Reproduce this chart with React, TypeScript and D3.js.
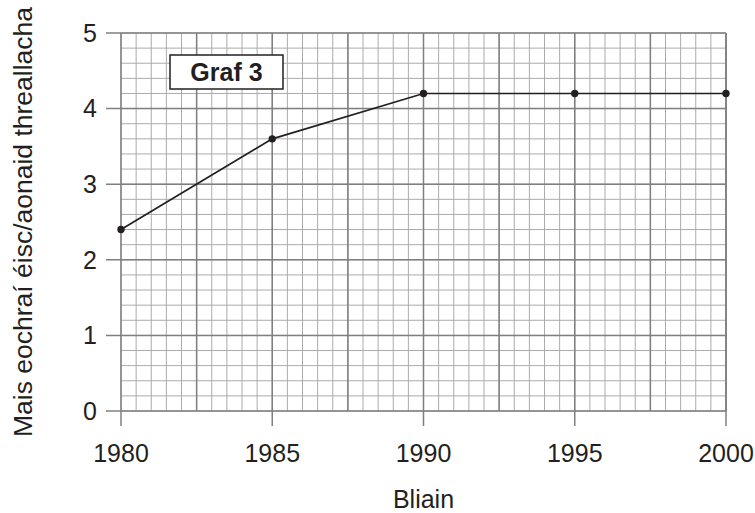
import React from "react";
import * as d3 from "d3";

const width = 755;
const height = 513;
const left = 121;
const right = 726;
const top = 33;
const bottom = 411;

const years = [1980, 1985, 1990, 1995, 2000];
const values = [2.4, 3.6, 4.2, 4.2, 4.2];
const yTicks = [0, 1, 2, 3, 4, 5];
const xTitle = "Bliain";
const yTitle = "Mais eochraí éisc/aonaid threallacha";
const graphLabel = "Graf 3";

const x = d3.scaleLinear().domain([1980, 2000]).range([left, right]);
const y = d3.scaleLinear().domain([0, 5]).range([bottom, top]);

const minorX = d3.range(1980, 2000.01, 0.5);
const minorY = d3.range(0, 5.001, 0.2);
const majorX = d3.range(1980, 2000.01, 2.5);

const line = d3
  .line<number>()
  .x((_, i) => x(years[i]))
  .y((d) => y(d));

const font = "Liberation Sans, Arial, sans-serif";
const fs = 25;

const App = () => {
  return (
    <svg width={width} height={height} style={{ position: "absolute", left: 0, top: 0 }}>
      <rect width={width} height={height} fill="white" />
      {minorX.map((v) => (
        <line key={"mx" + v} x1={x(v)} x2={x(v)} y1={top} y2={bottom} stroke="#ababab" strokeWidth={1} />
      ))}
      {minorY.map((v) => (
        <line key={"my" + v} x1={left} x2={right} y1={y(v)} y2={y(v)} stroke="#ababab" strokeWidth={1} />
      ))}
      {majorX.map((v) => (
        <line key={"Mx" + v} x1={x(v)} x2={x(v)} y1={top} y2={bottom} stroke="#7f7f7f" strokeWidth={1.5} />
      ))}
      {yTicks.map((v) => (
        <line key={"My" + v} x1={106} x2={right} y1={y(v)} y2={y(v)} stroke="#7f7f7f" strokeWidth={1.5} />
      ))}
      <line x1={right} x2={right} y1={top} y2={bottom} stroke="#7f7f7f" strokeWidth={1.5} />
      {years.map((v) => (
        <line key={"xt" + v} x1={x(v)} x2={x(v)} y1={bottom} y2={bottom + 15} stroke="#7f7f7f" strokeWidth={1.5} />
      ))}
      {yTicks.map((v) => (
        <text key={"yl" + v} x={97} y={y(v)} dy="0.35em" textAnchor="end" fontSize={fs} fontFamily={font} fill="#231f20">
          {v}
        </text>
      ))}
      {years.map((v) => (
        <text key={"xl" + v} x={x(v)} y={453} dy="0.35em" textAnchor="middle" fontSize={fs} fontFamily={font} fill="#231f20">
          {v}
        </text>
      ))}
      <text x={(left + right) / 2} y={499} dy="0.35em" textAnchor="middle" fontSize={fs} fontFamily={font} fill="#231f20">
        {xTitle}
      </text>
      <text
        transform={`translate(32, 222) rotate(-90)`}
        textAnchor="middle"
        fontSize={26.5}
        fontFamily={font}
        fill="#231f20"
      >
        {yTitle}
      </text>
      <rect x={170} y={55} width={113} height={34} fill="white" stroke="#231f20" strokeWidth={1.5} />
      <text x={226.5} y={72} dy="0.35em" textAnchor="middle" fontSize={fs} fontWeight="bold" fontFamily={font} fill="#231f20">
        {graphLabel}
      </text>
      <path d={line(values) ?? ""} fill="none" stroke="#231f20" strokeWidth={1.7} />
      {values.map((v, i) => (
        <circle key={"p" + i} cx={x(years[i])} cy={y(v)} r={3.7} fill="#231f20" />
      ))}
    </svg>
  );
};

export default App;
